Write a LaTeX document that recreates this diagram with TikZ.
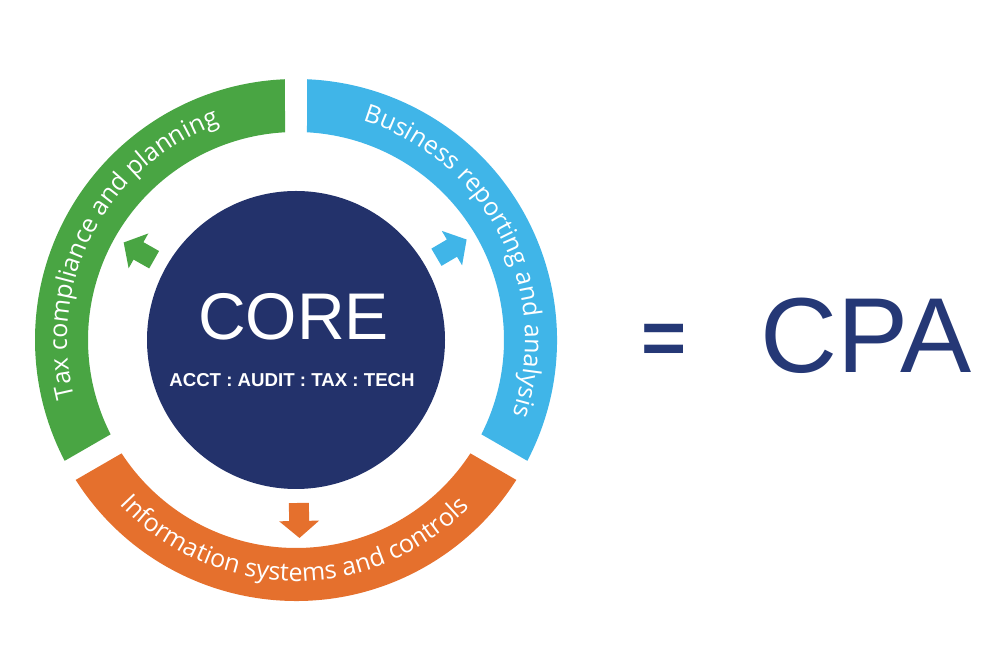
\documentclass[tikz,border=0pt]{standalone}
\usepackage{fontspec}
\setmainfont{Liberation Sans}
\newfontfamily\bandfont{Open Sans}
\usetikzlibrary{decorations.text,calc}
\definecolor{cgreen}{RGB}{73,165,67}
\definecolor{cblue}{RGB}{64,181,232}
\definecolor{corange}{RGB}{229,112,45}
\definecolor{cnavy}{RGB}{35,50,107}
\definecolor{cpanavy}{RGB}{37,56,118}
\tikzset{
  blockarrow/.pic={\fill[pic actions] (163,-10) -- (181,-10) -- (181,-20) -- (198,0) -- (181,20) -- (181,10) -- (163,10) -- cycle;},
  bandtext/.style={decorate, decoration={text along path, text align=center, text color=white,
      text={|\bandfont\fontsize{18.75}{20}\selectfont|#1}}},
  whitetext/.style={anchor=base, text=white, inner sep=0pt},
}
\begin{document}
\begin{tikzpicture}[x=0.75pt,y=0.75pt]
\useasboundingbox (0,0) rectangle (1000,667);
\coordinate (C) at (296,327);
\def\Ro{195.75pt}
\def\Ri{156pt}
% ring segments
\fill[cgreen] ($(C)+(92.42:\Ro)$) arc[start angle=92.42, end angle=207.58, radius=\Ro]
  -- ($(C)+(206.97:\Ri)$) arc[start angle=206.97, end angle=93.03, radius=\Ri] -- cycle;
\fill[corange] ($(C)+(212.42:\Ro)$) arc[start angle=212.42, end angle=327.58, radius=\Ro]
  -- ($(C)+(326.97:\Ri)$) arc[start angle=326.97, end angle=213.03, radius=\Ri] -- cycle;
\fill[cblue] ($(C)+(332.42:\Ro)$) arc[start angle=332.42, end angle=447.58, radius=\Ro]
  -- ($(C)+(446.97:\Ri)$) arc[start angle=446.97, end angle=333.03, radius=\Ri] -- cycle;
% band texts
\path[bandtext={Tax compliance and planning}] ($(C)+(212:171.75pt)$) arc[start angle=212, end angle=92, radius=171.75pt];
\path[bandtext={Business reporting and analysis}] ($(C)+(87:171.75pt)$) arc[start angle=87, end angle=-33, radius=171.75pt];
\path[bandtext={Information systems and controls}] ($(C)+(209.5:180.75pt)$) arc[start angle=209.5, end angle=329.5, radius=180.75pt];
% core
\node[circle, fill=cnavy, minimum size=223.5pt, inner sep=0pt] (core) at (C) {};
\node[whitetext, font=\fontsize{49.5}{50}\selectfont] (coretitle) at (293.5,327) {CORE};
\node[whitetext, font=\bfseries\fontsize{14}{15}\selectfont] (coresub) at (292,280) {ACCT : AUDIT : TAX : TECH};
% arrows
\pic[fill=cgreen, rotate=150.5] (garrow) at (C) {blockarrow};
\pic[fill=cblue, rotate=30.5] (barrow) at (C) {blockarrow};
\pic[fill=corange, rotate=-89] (oarrow) at (C) {blockarrow};
% equation
\node[anchor=base, text=cpanavy, inner sep=0pt, font=\bfseries\fontsize{58}{60}\selectfont] (eq) at (664,302) {=};
\node[anchor=base, text=cpanavy, inner sep=0pt, font=\fontsize{80}{82}\selectfont] (cpa) at (866,294) {CPA};
\end{tikzpicture}
\end{document}
